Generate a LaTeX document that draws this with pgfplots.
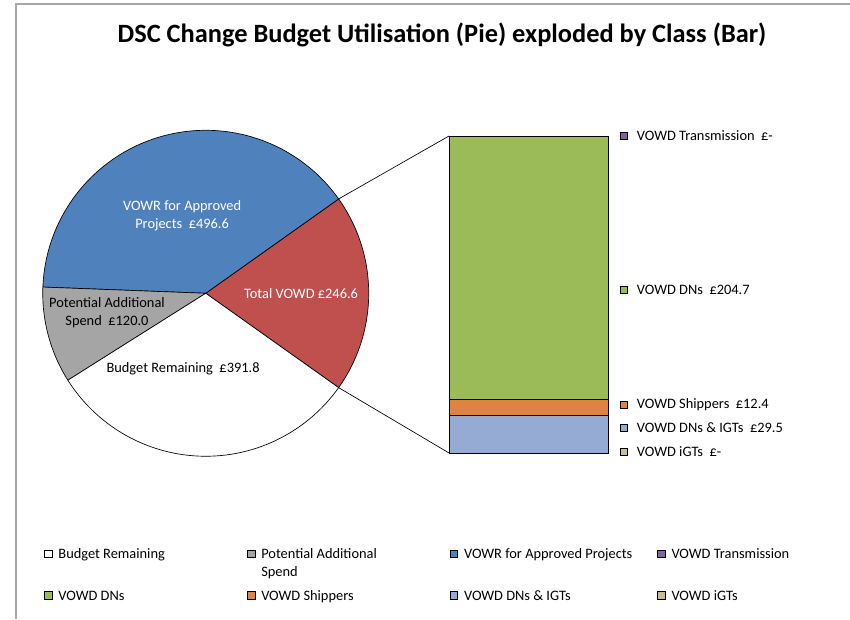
\documentclass[border=0pt]{standalone}
\usepackage{pgfplots}
\pgfplotsset{compat=1.18}
\usepackage{fontspec}
\setmainfont{Carlito}
\definecolor{cVOWR}{HTML}{4F81BD}
\definecolor{cVOWD}{HTML}{C0504D}
\definecolor{cPot}{HTML}{A5A5A5}
\definecolor{cRem}{HTML}{FFFFFF}
\definecolor{cTrans}{HTML}{8064A2}
\definecolor{cDNs}{HTML}{9BBB59}
\definecolor{cShip}{HTML}{DF8244}
\definecolor{cDNIGT}{HTML}{95ABD3}
\definecolor{ciGT}{HTML}{C4BD97}
\definecolor{cFrame}{HTML}{A6A6A6}
% pie values (GBP)
\def\vRem{391.8}
\def\vPot{120.0}
\def\vVOWR{496.6}
\def\vVOWD{246.6}
\pgfplotsset{sq/.style={legend image code/.code={\draw[##1,line width=0.5pt] (0pt,0.8pt) rectangle (5.6pt,6.4pt);}}}
\newcommand\sidelabel[3]{%
  \node[draw=black, fill=#2, minimum size=5.4pt, inner sep=0pt, line width=0.5pt, xshift=12pt] at (axis cs:0.5,#1) {};
  \node[anchor=west, xshift=20.5pt, inner sep=1pt] at (axis cs:0.5,#1) {#3};}
\begin{document}
\fontsize{10.8pt}{13.5pt}\selectfont
\begin{tikzpicture}
\useasboundingbox (0,0) rectangle (637.5pt,464.25pt);
\pgfmathsetmacro\tot{\vRem+\vPot+\vVOWR+\vVOWD}
\pgfmathsetmacro\aA{-180*(\vVOWD/\tot)}
\pgfmathsetmacro\aB{\aA+360*(\vVOWD/\tot)}
\pgfmathsetmacro\aC{\aB+360*(\vVOWR/\tot)}
\pgfmathsetmacro\aD{\aC+360*(\vPot/\tot)}
\pgfmathsetmacro\aE{\aD+360*(\vRem/\tot)}
\draw[cFrame, line width=1.2pt] (12pt,0pt) -- (12pt,461.25pt) -- (637.5pt,461.25pt);
\node[font=\bfseries\fontsize{19.8}{23}\selectfont] at (331.5pt,438pt) {DSC Change Budget Utilisation (Pie) exploded by Class (Bar)};
% ---------- pie ----------
\begin{axis}[name=pie, at={(154.3pt,244.3pt)}, anchor=center, scale only axis,
  width=244.5pt, height=244.5pt, xmin=-1, xmax=1, ymin=-1, ymax=1, hide axis, clip=false]
\addplot[fill=cVOWD, draw=black, line width=0.5pt, line join=round, domain=\aA:\aB, samples=40] ({cos(x)},{sin(x)}) -- (axis cs:0,0) -- cycle;
\addplot[fill=cVOWR, draw=black, line width=0.5pt, line join=round, domain=\aB:\aC, samples=60] ({cos(x)},{sin(x)}) -- (axis cs:0,0) -- cycle;
\addplot[fill=cPot, draw=black, line width=0.5pt, line join=round, domain=\aC:\aD, samples=30] ({cos(x)},{sin(x)}) -- (axis cs:0,0) -- cycle;
\addplot[fill=cRem, draw=black, line width=0.5pt, line join=round, domain=\aD:\aE, samples=60] ({cos(x)},{sin(x)}) -- (axis cs:0,0) -- cycle;
\coordinate (pT) at (axis cs:{cos(\aB)},{sin(\aB)});
\coordinate (pB) at (axis cs:{cos(\aA)},{sin(\aA)});
\node[white, align=center] at (axis cs:-0.145,0.474) {VOWR for Approved\\Projects\ \ £496.6};
\node[black, align=center] at (axis cs:-0.606,-0.121) {Potential Additional\\Spend\ \ £120.0};
\node[white] at (axis cs:0.585,-0.004) {Total VOWD £246.6};
\node[black] at (axis cs:-0.139,-0.464) {Budget Remaining\ \ £391.8};
\end{axis}
% ---------- bar ----------
\begin{axis}[name=bar, at={(336.75pt,124.5pt)}, anchor=south west, scale only axis,
  width=119.25pt, height=237.75pt, xmin=-0.5, xmax=0.5, ymin=0, ymax=246.6,
  hide axis, clip=false, ybar stacked, bar width=119.25pt,
  legend columns=4,
  legend style={at={(-2.572,-0.284)}, anchor=north west, draw=none, fill=none,
    /tikz/row sep=18pt,
    cells={anchor=base west},
    /tikz/every odd column/.append style={column sep=2.5pt},
    /tikz/every even column/.append style={column sep=2pt}},
  ]
\addplot[fill=ciGT, draw=black, line width=0.6pt, forget plot] coordinates {(0,0)};
\addplot[fill=cDNIGT, draw=black, line width=0.6pt, forget plot] coordinates {(0,29.5)};
\addplot[fill=cShip, draw=black, line width=0.6pt, forget plot] coordinates {(0,12.4)};
\addplot[fill=cDNs, draw=black, line width=0.6pt, forget plot] coordinates {(0,204.7)};
\addplot[fill=cTrans, draw=black, line width=0.6pt, forget plot] coordinates {(0,0)};
\coordinate (bT) at (rel axis cs:0,1);
\coordinate (bB) at (rel axis cs:0,0);
\sidelabel{246.6}{cTrans}{VOWD Transmission\ \ £-}
\sidelabel{126.8}{cDNs}{VOWD DNs\ \ £204.7}
\sidelabel{37.3}{cShip}{VOWD Shippers\ \ £12.4}
\sidelabel{19.4}{cDNIGT}{VOWD DNs \& IGTs\ \ £29.5}
\sidelabel{0.8}{ciGT}{VOWD iGTs\ \ £-}
\addlegendimage{sq, fill=cRem, draw=black}
\addlegendentry{\makebox[137.5pt][l]{Budget Remaining}}
\addlegendimage{sq, fill=cPot, draw=black}
\addlegendentry{\parbox[t]{137.5pt}{Potential Additional\\Spend}}
\addlegendimage{sq, fill=cVOWR, draw=black}
\addlegendentry{\makebox[141pt][l]{VOWR for Approved Projects}}
\addlegendimage{sq, fill=cTrans, draw=black}
\addlegendentry{\makebox[120pt][l]{VOWD Transmission}}
\addlegendimage{sq, fill=cDNs, draw=black}
\addlegendentry{VOWD DNs}
\addlegendimage{sq, fill=cShip, draw=black}
\addlegendentry{VOWD Shippers}
\addlegendimage{sq, fill=cDNIGT, draw=black}
\addlegendentry{VOWD DNs \& IGTs}
\addlegendimage{sq, fill=ciGT, draw=black}
\addlegendentry{VOWD iGTs}
\end{axis}
\draw[black, line width=0.5pt] (pT) -- (bT);
\draw[black, line width=0.5pt] (pB) -- (bB);
\end{tikzpicture}
\end{document}
